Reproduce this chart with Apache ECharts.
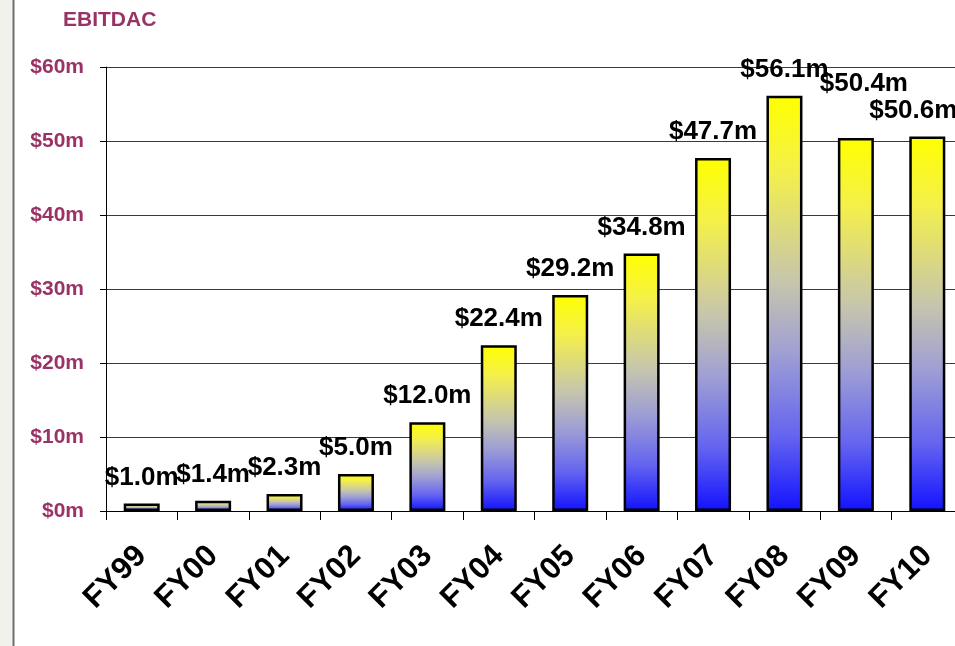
<!DOCTYPE html>
<html>
<head>
<meta charset="utf-8">
<script src="https://cdn.jsdelivr.net/npm/echarts@6/dist/echarts.min.js"></script>
<style>
  html, body { margin: 0; padding: 0; background: #ffffff; }
  #chart { width: 955px; height: 646px; }
</style>
</head>
<body>
<div id="chart"></div>
<script>
// Fiscal years and EBITDAC in $ millions
const years = ['FY99', 'FY00', 'FY01', 'FY02', 'FY03', 'FY04', 'FY05', 'FY06', 'FY07', 'FY08', 'FY09', 'FY10'];
const ebitdac = [1.0, 1.4, 2.3, 5.0, 12.0, 22.4, 29.2, 34.8, 47.7, 56.1, 50.4, 50.6];
const yTicks = [0, 10, 20, 30, 40, 50, 60];

const plum = '#993366';
const font = '"Liberation Sans", Arial, sans-serif';

// yellow-to-blue fill used on every column
const barFill = new echarts.graphic.LinearGradient(0, 0, 0, 1, [
  { offset: 0, color: '#ffff00' },
  { offset: 0.18, color: '#f4f04a' },
  { offset: 0.45, color: '#c6c5ad' },
  { offset: 0.62, color: '#9f9fd4' },
  { offset: 0.82, color: '#6464f0' },
  { offset: 1, color: '#1212ff' }
]);

// a few value labels are nudged so they stay readable (FY09 and FY10)
const labelNudge = { 10: [8, -28], 11: [-14, 0] };

const seriesData = ebitdac.map((v, i) => {
  const item = { value: v };
  if (labelNudge[i]) item.label = { offset: labelNudge[i] };
  return item;
});

const chart = echarts.init(document.getElementById('chart'), null, { renderer: 'canvas' });
chart.setOption({
  animation: false,
  backgroundColor: '#ffffff',
  title: {
    text: 'EBITDAC',
    left: 58,
    top: 5,
    textStyle: { color: plum, fontFamily: font, fontWeight: 'bold', fontSize: 21 }
  },
  graphic: [
    {
      type: 'rect',
      shape: { x: 0, y: 0, width: 13, height: 646 },
      style: { fill: '#f2f2ec' },
      silent: true
    },
    {
      type: 'line',
      shape: { x1: 13.5, y1: 0, x2: 13.5, y2: 646 },
      style: { stroke: '#6e6e6e', lineWidth: 2 },
      silent: true
    }
  ],
  grid: { left: 106, top: 67, width: 857, bottom: 135, containLabel: false, outerBoundsMode: 'none' },
  xAxis: {
    type: 'category',
    data: years,
    boundaryGap: true,
    axisLine: { show: true, lineStyle: { color: '#000', width: 1 } },
    axisTick: { show: true, length: 9, lineStyle: { color: '#000', width: 1 } },
    axisLabel: {
      rotate: 45,
      margin: 40,
      interval: 0,
      color: '#000',
      fontFamily: font,
      fontWeight: 'bold',
      fontSize: 31
    }
  },
  yAxis: {
    type: 'value',
    min: yTicks[0],
    max: yTicks[yTicks.length - 1],
    interval: 10,
    axisLine: { show: true, lineStyle: { color: '#000', width: 1 } },
    axisTick: { show: true, length: 6, lineStyle: { color: '#000' } },
    splitLine: { show: true, lineStyle: { color: '#3a3a3a', width: 1 } },
    axisLabel: {
      margin: 22,
      color: plum,
      fontFamily: font,
      fontWeight: 'bold',
      fontSize: 21,
      formatter: v => '$' + v + 'm'
    }
  },
  series: [{
    type: 'bar',
    data: seriesData,
    barWidth: 36,
    itemStyle: { color: barFill, borderColor: '#000', borderWidth: 2.5 },
    label: {
      show: true,
      position: 'top',
      distance: 13,
      color: '#000',
      fontFamily: font,
      fontWeight: 'bold',
      fontSize: 26,
      formatter: p => '$' + p.value.toFixed(1) + 'm'
    }
  }]
});
</script>
</body>
</html>
